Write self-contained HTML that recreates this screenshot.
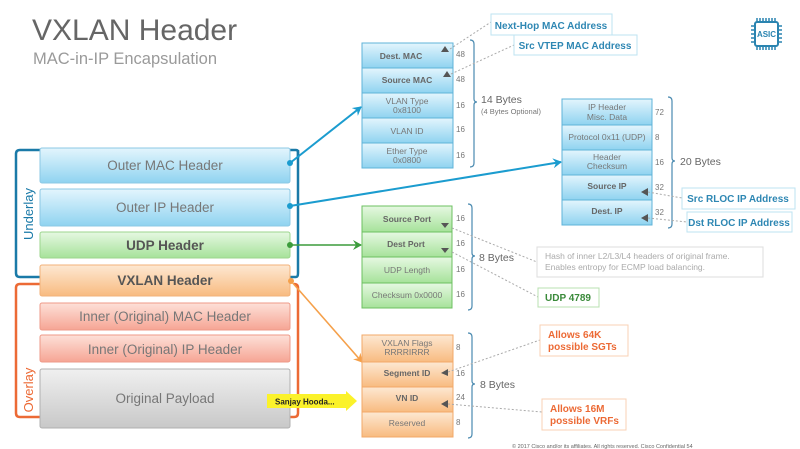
<!DOCTYPE html>
<html><head><meta charset="utf-8"><style>
html,body{margin:0;padding:0;background:#fff;}
svg{display:block;font-family:"Liberation Sans",sans-serif;}
</style></head><body>
<svg width="800" height="449" viewBox="0 0 800 449" xmlns="http://www.w3.org/2000/svg">
<defs>
<linearGradient id="gb" x1="0" y1="0" x2="0" y2="1"><stop offset="0" stop-color="#e3f5fd"/><stop offset="1" stop-color="#8fd3f0"/></linearGradient>
<linearGradient id="gg" x1="0" y1="0" x2="0" y2="1"><stop offset="0" stop-color="#e6f8e2"/><stop offset="1" stop-color="#a6e29a"/></linearGradient>
<linearGradient id="go" x1="0" y1="0" x2="0" y2="1"><stop offset="0" stop-color="#fde8d2"/><stop offset="1" stop-color="#f8bb80"/></linearGradient>
<linearGradient id="gr" x1="0" y1="0" x2="0" y2="1"><stop offset="0" stop-color="#fde0d8"/><stop offset="1" stop-color="#f6a594"/></linearGradient>
<linearGradient id="gy" x1="0" y1="0" x2="0" y2="1"><stop offset="0" stop-color="#f0f0f0"/><stop offset="1" stop-color="#c8c8c8"/></linearGradient>
<marker id="ab" markerWidth="10" markerHeight="10" refX="8" refY="5" orient="auto" markerUnits="userSpaceOnUse"><path d="M0,0 L9,5 L0,10 L3,5z" fill="#1b9ccf"/></marker>
<marker id="ag" markerWidth="10" markerHeight="10" refX="8" refY="5" orient="auto" markerUnits="userSpaceOnUse"><path d="M0,0 L9,5 L0,10 L3,5z" fill="#3c9c3c"/></marker>
<marker id="ao" markerWidth="10" markerHeight="10" refX="8" refY="5" orient="auto" markerUnits="userSpaceOnUse"><path d="M0,0 L9,5 L0,10 L3,5z" fill="#f5a04a"/></marker>
</defs>

<text x="32" y="40" font-size="30" fill="#666">VXLAN Header</text>
<text x="33" y="64" font-size="16.5" fill="#9a9a9a">MAC-in-IP Encapsulation</text>

<!-- ASIC -->
<g>
<rect x="755" y="22" width="23" height="24" rx="2" fill="#fff" stroke="#2a84b0" stroke-width="2"/>
<path d="M757,18v4M760,18v4M763,18v4M766,18v4M769,18v4M772,18v4M775,18v4M757,46v4M760,46v4M763,46v4M766,46v4M769,46v4M772,46v4M775,46v4M751,26h4M751,30h4M751,34h4M751,38h4M751,42h4M778,26h4M778,30h4M778,34h4M778,38h4M778,42h4" stroke="#2a84b0" stroke-width="1.5"/>
<text x="766.5" y="37" font-size="8" font-weight="bold" fill="#2a84b0" text-anchor="middle">ASIC</text>
</g>

<!-- brackets -->
<path d="M298,158 V152 Q298,150 296,150 H20 Q16,150 16,154 V273 Q16,277 20,277 H296" fill="none" stroke="#1a7aa8" stroke-width="2.5"/>
<path d="M296,277 Q298,277 298,273 V150" fill="none" stroke="#1a7aa8" stroke-width="2.5"/>
<path d="M40,284 H20 Q16,284 16,288 V413 Q16,417 20,417 H294 Q298,417 298,413 V288 Q298,284 294,284" fill="none" stroke="#ec6a35" stroke-width="2.5"/>
<text transform="translate(33,214) rotate(-90)" font-size="13" fill="#1a7aa8" text-anchor="middle">Underlay</text>
<text transform="translate(33,390) rotate(-90)" font-size="13" fill="#ec6a35" text-anchor="middle">Overlay</text>

<!-- left stack -->
<g font-size="13.5" text-anchor="middle" fill="#777">
<rect x="40" y="148" width="250" height="35" rx="2" fill="url(#gb)" stroke="#8cc8e4"/>
<text x="165" y="170">Outer MAC Header</text>
<rect x="40" y="189" width="250" height="37" rx="2" fill="url(#gb)" stroke="#8cc8e4"/>
<text x="165" y="212">Outer IP Header</text>
<rect x="40" y="232" width="250" height="26" rx="2" fill="url(#gg)" stroke="#9cd68e"/>
<text x="165" y="250" font-weight="bold" fill="#555">UDP Header</text>
<rect x="40" y="265" width="250" height="31" rx="2" fill="url(#go)" stroke="#f2b27a"/>
<text x="165" y="285" font-weight="bold" fill="#555">VXLAN Header</text>
<rect x="40" y="303" width="250" height="27" rx="2" fill="url(#gr)" stroke="#ee9a88"/>
<text x="165" y="321">Inner (Original) MAC Header</text>
<rect x="40" y="335" width="250" height="27" rx="2" fill="url(#gr)" stroke="#ee9a88"/>
<text x="165" y="354">Inner (Original) IP Header</text>
<rect x="40" y="369" width="250" height="59" rx="2" fill="url(#gy)" stroke="#b0b0b0"/>
<text x="165" y="403">Original Payload</text>
</g>

<!-- connectors -->
<line x1="290" y1="163" x2="361" y2="107" stroke="#1b9ccf" stroke-width="2" marker-end="url(#ab)"/>
<circle cx="290" cy="163" r="3" fill="#1b9ccf"/>
<line x1="290" y1="206" x2="561" y2="162" stroke="#1b9ccf" stroke-width="2" marker-end="url(#ab)"/>
<circle cx="290" cy="206" r="3" fill="#1b9ccf"/>
<line x1="290" y1="245" x2="361" y2="245" stroke="#3c9c3c" stroke-width="1.6" marker-end="url(#ag)"/>
<circle cx="290" cy="245" r="3" fill="#3c9c3c"/>
<line x1="291" y1="281" x2="362" y2="362" stroke="#f5a04a" stroke-width="1.6" marker-end="url(#ao)"/>
<circle cx="291" cy="281" r="3" fill="#f5a04a"/>

<!-- yellow arrow -->
<path d="M267,394 H346 V391 L357,401 L346,411 V408 H267z" fill="#fbf22a"/>
<text x="275" y="404.5" font-size="8" font-weight="bold" fill="#222">Sanjay Hooda...</text>

<!-- MAC stack -->
<g font-size="8.5" text-anchor="middle" fill="#777">
<rect x="362" y="43" width="91" height="25" fill="url(#gb)" stroke="#5fb3d8"/>
<text x="401" y="59" font-weight="bold" fill="#666">Dest. MAC</text>
<rect x="362" y="68" width="91" height="25" fill="url(#gb)" stroke="#5fb3d8"/>
<text x="407" y="83" font-weight="bold" fill="#666">Source MAC</text>
<rect x="362" y="93" width="91" height="25" fill="url(#gb)" stroke="#5fb3d8"/>
<text x="407" y="104">VLAN Type</text><text x="407" y="113">0x8100</text>
<rect x="362" y="118" width="91" height="25" fill="url(#gb)" stroke="#5fb3d8"/>
<text x="407" y="134">VLAN ID</text>
<rect x="362" y="143" width="91" height="25" fill="url(#gb)" stroke="#5fb3d8"/>
<text x="407" y="154">Ether Type</text><text x="407" y="163">0x0800</text>
<path d="M441,52 l4,-6 l4,6z M443,77 l4,-6 l4,6z" fill="#555"/>
<g text-anchor="start" font-size="8"><text x="456" y="57">48</text><text x="456" y="82">48</text><text x="456" y="108">16</text><text x="456" y="132">16</text><text x="456" y="158">16</text></g>
</g>
<path d="M470,40 q4,0 4,4 v55 q0,3 3,3 q-3,0 -3,3 v58 q0,4 -4,4" fill="none" stroke="#4a8ab0" stroke-width="1.2"/>
<text x="481" y="103" font-size="10.5" fill="#666">14 Bytes</text>
<text x="481" y="114" font-size="7.5" fill="#777">(4 Bytes Optional)</text>
<path d="M450,49 L491,22 M451,74 L514,45" stroke="#aaa" stroke-dasharray="2,2" fill="none"/>
<rect x="491" y="14" width="121" height="21" fill="#fff" stroke="#bde3f2"/>
<text x="551" y="29" font-size="10" font-weight="bold" fill="#2e87b3" text-anchor="middle">Next-Hop MAC Address</text>
<rect x="514" y="35" width="123" height="20" fill="#fff" stroke="#bde3f2"/>
<text x="575" y="49" font-size="10" font-weight="bold" fill="#2e87b3" text-anchor="middle">Src VTEP MAC Address</text>

<!-- IP stack -->
<g font-size="8.5" text-anchor="middle" fill="#777">
<rect x="562" y="99" width="90" height="26" fill="url(#gb)" stroke="#5fb3d8"/>
<text x="607" y="110">IP Header</text><text x="607" y="120">Misc. Data</text>
<rect x="562" y="125" width="90" height="25" fill="url(#gb)" stroke="#5fb3d8"/>
<text x="607" y="140">Protocol 0x11 (UDP)</text>
<rect x="562" y="150" width="90" height="25" fill="url(#gb)" stroke="#5fb3d8"/>
<text x="607" y="160">Header</text><text x="607" y="169">Checksum</text>
<rect x="562" y="175" width="90" height="25" fill="url(#gb)" stroke="#5fb3d8"/>
<text x="607" y="189" font-weight="bold" fill="#666">Source IP</text>
<rect x="562" y="200" width="90" height="25" fill="url(#gb)" stroke="#5fb3d8"/>
<text x="607" y="214" font-weight="bold" fill="#666">Dest. IP</text>
<path d="M641,192 l7,-4 v8z M641,218 l7,-4 v8z" fill="#555"/>
<g text-anchor="start" font-size="8"><text x="655" y="115">72</text><text x="655" y="140">8</text><text x="655" y="165">16</text><text x="655" y="190">32</text><text x="655" y="215">32</text></g>
</g>
<path d="M668,97 q4,0 4,4 v57 q0,3 3,3 q-3,0 -3,3 v60 q0,4 -4,4" fill="none" stroke="#4a8ab0" stroke-width="1.2"/>
<text x="680" y="165" font-size="10.5" fill="#666">20 Bytes</text>
<path d="M648,192 L682,198 M648,218 L687,222" stroke="#aaa" stroke-dasharray="2,2" fill="none"/>
<rect x="682" y="188" width="113" height="21" fill="#fff" stroke="#bde3f2"/>
<text x="738" y="202" font-size="10" font-weight="bold" fill="#2e87b3" text-anchor="middle">Src RLOC IP Address</text>
<rect x="687" y="212" width="105" height="20" fill="#fff" stroke="#bde3f2"/>
<text x="739" y="226" font-size="10" font-weight="bold" fill="#2e87b3" text-anchor="middle">Dst RLOC IP Address</text>

<!-- UDP stack -->
<g font-size="8.5" text-anchor="middle" fill="#777">
<rect x="362" y="206" width="90" height="26" fill="url(#gg)" stroke="#6cc060"/>
<text x="407" y="222" font-weight="bold" fill="#666">Source Port</text>
<rect x="362" y="232" width="90" height="25" fill="url(#gg)" stroke="#6cc060"/>
<text x="406" y="247" font-weight="bold" fill="#666">Dest Port</text>
<rect x="362" y="257" width="90" height="26" fill="url(#gg)" stroke="#6cc060"/>
<text x="407" y="273">UDP Length</text>
<rect x="362" y="283" width="90" height="25" fill="url(#gg)" stroke="#6cc060"/>
<text x="407" y="298">Checksum 0x0000</text>
<path d="M441,223 h8 l-4,5z M441,248 h8 l-4,5z" fill="#555"/>
<g text-anchor="start" font-size="8"><text x="456" y="221">16</text><text x="456" y="246">16</text><text x="456" y="272">16</text><text x="456" y="297">16</text></g>
</g>
<path d="M468,204 q4,0 4,4 v45 q0,3 3,3 q-3,0 -3,3 v47 q0,4 -4,4" fill="none" stroke="#4a8ab0" stroke-width="1.2"/>
<text x="479" y="261" font-size="10.5" fill="#666">8 Bytes</text>
<path d="M452,228 L537,262 M452,252 L538,297" stroke="#aaa" stroke-dasharray="2,2" fill="none"/>
<rect x="537" y="247" width="226" height="30" fill="#fff" stroke="#ddd"/>
<text x="545" y="259" font-size="8.5" fill="#aaa">Hash of inner L2/L3/L4 headers of original frame.</text>
<text x="545" y="270" font-size="8.5" fill="#aaa">Enables entropy for ECMP load balancing.</text>
<rect x="538" y="288" width="61" height="19" fill="#fff" stroke="#b8e0b0"/>
<text x="568" y="301" font-size="10" font-weight="bold" fill="#3a8a3a" text-anchor="middle">UDP 4789</text>

<!-- VXLAN stack -->
<g font-size="8.5" text-anchor="middle" fill="#777">
<rect x="362" y="335" width="91" height="27" fill="url(#go)" stroke="#f2a868"/>
<text x="407" y="346">VXLAN Flags</text><text x="407" y="355">RRRRIRRR</text>
<rect x="362" y="362" width="91" height="25" fill="url(#go)" stroke="#f2a868"/>
<text x="407" y="376" font-weight="bold" fill="#666">Segment ID</text>
<rect x="362" y="387" width="91" height="25" fill="url(#go)" stroke="#f2a868"/>
<text x="407" y="401" font-weight="bold" fill="#666">VN ID</text>
<rect x="362" y="412" width="91" height="25" fill="url(#go)" stroke="#f2a868"/>
<text x="407" y="426">Reserved</text>
<path d="M441,373 l7,-4 v7z M441,404 l7,-4 v8z" fill="#555"/>
<g text-anchor="start" font-size="8"><text x="456" y="350">8</text><text x="456" y="376">16</text><text x="456" y="400">24</text><text x="456" y="425">8</text></g>
</g>
<path d="M468,333 q4,0 4,4 v44 q0,3 3,3 q-3,0 -3,3 v47 q0,4 -4,4" fill="none" stroke="#4a8ab0" stroke-width="1.2"/>
<text x="480" y="388" font-size="10.5" fill="#666">8 Bytes</text>
<path d="M448,372 L540,340 M448,404 L542,412" stroke="#aaa" stroke-dasharray="2,2" fill="none"/>
<rect x="540" y="325" width="88" height="31" fill="#fff" stroke="#f8d2b4"/>
<text x="548" y="338" font-size="10" font-weight="bold" fill="#ec6a35">Allows 64K</text>
<text x="548" y="350" font-size="10" font-weight="bold" fill="#ec6a35">possible SGTs</text>
<rect x="542" y="399" width="84" height="31" fill="#fff" stroke="#f8d2b4"/>
<text x="550" y="412" font-size="10" font-weight="bold" fill="#ec6a35">Allows 16M</text>
<text x="550" y="424" font-size="10" font-weight="bold" fill="#ec6a35">possible VRFs</text>

<text x="512" y="448" font-size="5.5" fill="#666">© 2017  Cisco and/or its affiliates. All rights reserved.      Cisco Confidential        54</text>
</svg>
</body></html>
